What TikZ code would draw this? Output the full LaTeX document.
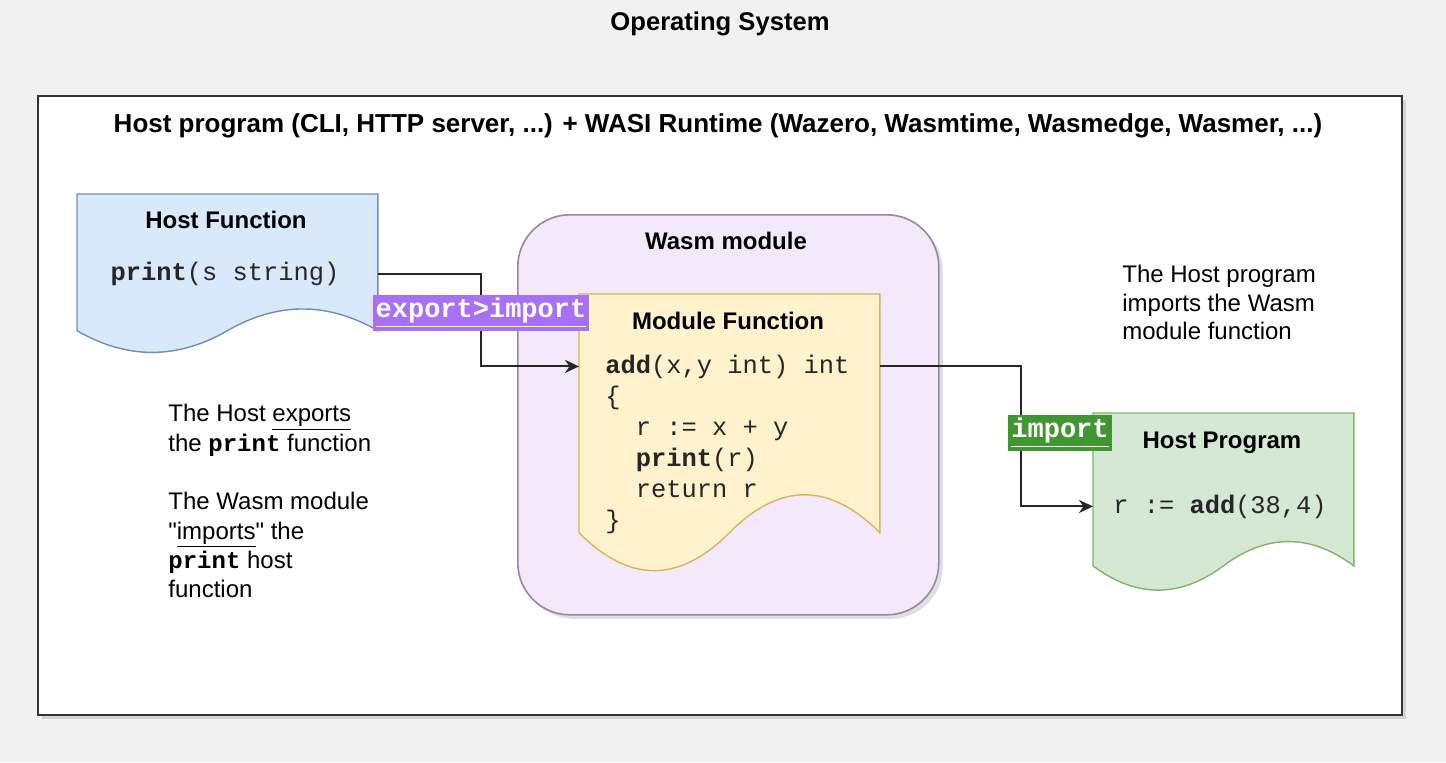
\documentclass[tikz,border=0pt]{standalone}
\usepackage{fontspec}
\setmainfont{Liberation Sans}
\setmonofont{Liberation Mono}
\usetikzlibrary{arrows.meta,calc,shadows}

\definecolor{osbg}{RGB}{241,241,241}
\definecolor{hostblue}{RGB}{218,232,252}
\definecolor{hostblueline}{RGB}{108,142,191}
\definecolor{modyellow}{RGB}{255,242,204}
\definecolor{modyellowline}{RGB}{214,182,86}
\definecolor{proggreen}{RGB}{213,232,212}
\definecolor{proggreenline}{RGB}{130,179,102}
\definecolor{wasmlilac}{RGB}{243,233,250}
\definecolor{wasmline}{RGB}{150,135,170}
\definecolor{tagpurple}{RGB}{168,112,245}
\definecolor{taggreen}{RGB}{64,150,48}

\newcommand{\plainquote}{{\addfontfeatures{Ligatures=TeXOff}"}}

\newcommand{\docoutline}[3]{%
  \path[draw=#3, fill=#2, line width=0.7pt]
    let \p1=(#1.north west), \p2=(#1.south east),
        \n1={\x2-\x1}, \n2={0.3*(\y1-\y2)} in
    (\p1) -- (\x2,\y1) -- (\x2,\y2+0.5*\n2)
    .. controls (\x1+5*\n1/6,\y2+1.1*\n2) and (\x1+2*\n1/3,\y2+1.1*\n2) .. (\x1+0.5*\n1,\y2+0.5*\n2)
    .. controls (\x1+\n1/3,\y2-0.1*\n2) and (\x1+\n1/6,\y2-0.1*\n2) .. (\x1,\y2+0.5*\n2) -- cycle;}

\begin{document}
\begin{tikzpicture}[x=0.5pt, y=-0.5pt,
                    >={Stealth[length=7pt,width=6.5pt]}]
    \tikzstyle{heading}=[font=\bfseries\fontsize{12}{14}\selectfont, inner sep=0pt, anchor=base]
    \tikzstyle{note}=[font=\fontsize{12}{14.65}\selectfont, align=left, inner sep=0pt, anchor=north west]
    \tikzstyle{code}=[font=\ttfamily\fontsize{12.7}{15.6}\selectfont, inner sep=0pt, text=black!85]
    \tikzstyle{doc}=[rectangle, anchor=north west, inner sep=0pt]
    \tikzstyle{tag}=[font=\ttfamily\bfseries\fontsize{13.5}{15}\selectfont, text=white,
                     inner sep=1.5pt, minimum height=17pt]
    \tikzstyle{conn}=[->, line width=1pt, draw=black!85]

    \fill[osbg] (0,0) rectangle (1446,762);

    \node[heading, font=\bfseries\fontsize{12.8}{15}\selectfont] (os) at (720,30) {Operating System};

    \node[rectangle, anchor=north west, draw=black!80, line width=1.2pt, fill=white,
          minimum width=682pt, minimum height=309.5pt,
          drop shadow={shadow xshift=2pt, shadow yshift=-2pt, opacity=0.25}] (runtime) at (37,95) {};
    \node[heading, font=\bfseries\fontsize{13}{15}\selectfont] (runtimetitle) at (718,132)
        {Host program (CLI, HTTP server, ...) + WASI Runtime (Wazero, Wasmtime, Wasmedge, Wasmer, ...)};

    \node[rectangle, anchor=north west, rounded corners=26pt, draw=wasmline, line width=0.8pt,
          fill=wasmlilac, minimum width=210.5pt, minimum height=200pt,
          drop shadow={shadow xshift=2pt, shadow yshift=-2pt, opacity=0.25}] (wasm) at (517,214) {};
    \node[heading] (wasmtitle) at (726,249) {Wasm module};

    \node[doc, minimum width=150pt, minimum height=80pt] (hostfn) at (77,194) {};
    \docoutline{hostfn}{hostblue}{hostblueline}
    \node[heading] (hostfntitle) at (226,228) {Host Function};
    \node[code, anchor=base] (printsig) at (225,280) {\textbf{print}(s string)};

    \node[doc, minimum width=150pt, minimum height=140pt] (modfn) at (579,294) {};
    \docoutline{modfn}{modyellow}{modyellowline}
    \node[heading] (modfntitle) at (728,329) {Module Function};
    \node[code, anchor=base west] (addsig) at (605,373) {\textbf{add}(x,y int) int};
    \foreach \txt [count=\i] in {{\{}, {\phantom{xx}r := x + y}, {\phantom{xx}\textbf{print}(r)},
                                 {\phantom{xx}return r}, {\}}}
        \node[code, anchor=base west] (addbody\i) at (605,373+31*\i) {\txt};

    \node[doc, minimum width=130pt, minimum height=89.5pt] (hostprog) at (1093,413) {};
    \docoutline{hostprog}{proggreen}{proggreenline}
    \node[heading] (hostprogtitle) at (1222,448) {Host Program};
    \node[code, anchor=base] (progcall) at (1220,513) {r := \textbf{add}(38,4)};

    \node[note] (exportnote) at (168,404)
        {The Host \underline{exports}\\
         the \texttt{\textbf{print}} function\\[14.65pt]
         The Wasm module\\
         \plainquote\underline{imports}\plainquote{} the\\
         \texttt{\textbf{print}} host\\
         function};
    \node[note, font=\fontsize{12}{14.25}\selectfont] (importnote) at (1122,265)
        {The Host program\\
         imports the Wasm\\
         module function};

    \coordinate (elbow) at (1021,433);
    \node[tag, fill=tagpurple] (exporttag) at (481,313) {\underline{export>import}};
    \draw[conn] (hostfn.east) -| (exporttag.center) |- (modfn.west |- addsig);
    \draw[conn] (modfn.east |- addsig) -| (elbow) |- (hostprog.west |- progcall);
    \node[tag, fill=tagpurple] at (exporttag) {\underline{export>import}};
    \node[tag, fill=taggreen] (importtag) at (1060,433) {\underline{import}};
\end{tikzpicture}
\end{document}
